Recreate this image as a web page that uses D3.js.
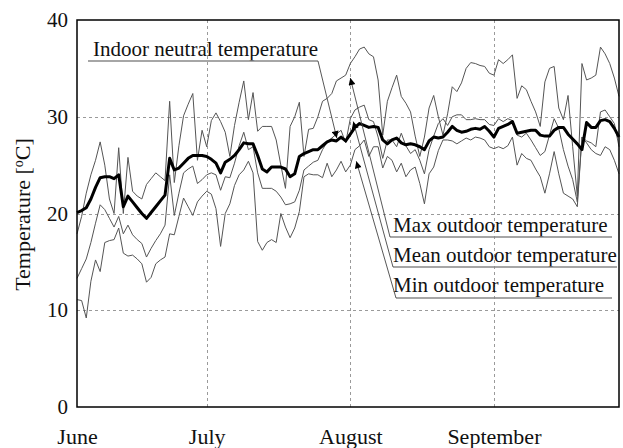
<!DOCTYPE html>
<html>
<head>
<meta charset="utf-8">
<script src="https://cdn.jsdelivr.net/npm/d3@7"></script>
<style>
  html, body { margin: 0; padding: 0; background: #fff; }
  svg { display: block; }
  text { font-family: "Liberation Serif", "Times New Roman", serif; fill: #111; }
</style>
</head>
<body>
<svg id="chart" width="623" height="448"></svg>
<script>
// Daily temperatures, 3 June – 28 September (°C)
const firstDay = new Date(2013, 5, 3);
const lastDay = new Date(2013, 8, 28);

const maxOutdoor = [
  17.9, 19.7, 22.1, 24.0, 25.5, 27.4, 25.0, 21.5, 20.0, 26.8,
  20.0, 25.8, 22.3, 21.8, 21.5, 23.0, 23.6, 24.2, 23.8, 23.4,
  31.6, 23.2, 27.0, 30.1, 31.3, 32.4, 25.5, 28.6, 26.9, 29.6,
  30.4, 29.5, 28.4, 25.9, 29.1, 31.5, 33.7, 29.7, 32.5, 28.5,
  29.0, 29.0, 29.0, 27.6, 25.0, 22.6, 29.0, 30.0, 31.5, 25.9,
  28.7, 28.8, 30.0, 31.6, 31.9, 32.4, 33.7, 34.0, 34.3, 35.5,
  36.2, 37.0, 37.2, 36.5, 36.2, 33.8, 28.1, 31.6, 33.0, 34.3,
  32.1, 31.4, 30.5, 28.0, 25.9, 27.9, 30.9, 32.2, 30.0, 28.1,
  30.3, 33.1, 32.6, 33.5, 35.0, 35.6, 35.5, 35.3, 35.2, 34.5,
  34.3, 35.9, 35.5, 35.9, 36.4, 31.9, 33.2, 32.8, 31.6, 30.5,
  29.0, 33.6, 35.0, 35.2, 30.9, 29.7, 32.2, 26.9, 21.8, 35.5,
  33.8, 34.0, 34.3, 37.2, 36.5, 35.5, 34.0, 32.1
];

const meanOutdoor = [
  13.3, 14.3, 15.3, 17.0, 19.0, 20.9, 20.4, 19.5, 18.6, 19.7,
  17.9, 18.8, 17.8, 17.3, 16.9, 15.5, 16.4, 17.2, 17.9, 18.8,
  24.0, 19.8, 22.1, 24.2, 24.6, 24.9, 23.1, 23.5, 24.0, 24.2,
  24.0, 22.4, 23.8, 23.7, 25.2, 27.0, 28.4, 26.6, 26.9, 24.2,
  22.6, 22.6, 22.6, 22.3, 21.7, 20.9, 21.0, 21.2, 22.4, 24.5,
  24.9, 25.3, 25.5, 26.6, 27.4, 27.8, 28.2, 28.6, 27.3, 29.8,
  30.7, 31.0, 31.2, 29.7, 29.5, 27.9, 25.7, 27.6, 27.6, 26.9,
  28.3, 27.0, 26.2, 26.6, 25.5, 24.1, 26.6, 28.0, 29.3, 29.8,
  29.1, 30.0, 30.2, 30.2, 29.7, 29.7, 29.8, 29.7, 29.7, 29.2,
  29.1, 29.8, 29.5, 29.8, 29.6, 28.1, 27.9, 28.3, 27.6, 26.8,
  26.0, 26.4, 28.1, 29.8, 28.8, 26.6, 24.9, 23.5, 21.2, 27.9,
  27.5, 27.3, 26.9, 30.5, 30.7, 30.0, 29.3, 26.9
];

const minOutdoor = [
  11.1, 11.0, 9.2, 13.0, 15.2, 14.0, 17.0, 17.2, 17.3, 18.5,
  15.9, 15.6, 15.7, 15.3, 14.8, 12.9, 13.4, 14.8, 15.2, 15.5,
  17.9, 17.8, 19.7, 21.6, 20.7, 19.8, 21.2, 21.8, 22.3, 22.0,
  20.5, 16.6, 20.0, 21.0, 22.9, 24.0, 24.5, 25.4, 24.2, 17.1,
  16.2, 17.0, 17.3, 17.0, 20.0, 18.6, 17.5, 18.5, 20.2, 23.8,
  24.1, 24.0, 24.0, 23.7, 25.2, 23.8, 24.5, 25.4, 24.3, 25.0,
  26.6, 27.0, 27.6, 25.9, 26.9, 26.9, 24.7, 25.9, 25.5, 24.3,
  25.2, 23.8, 24.5, 24.8, 23.1, 21.0, 24.1, 24.8, 26.5, 27.6,
  27.6, 27.5, 27.2, 27.5, 27.8, 27.6, 27.9, 27.8, 27.6, 26.9,
  26.7, 26.9, 26.7, 27.0, 27.9, 25.0, 26.2, 25.7, 25.5, 24.6,
  23.8, 22.1, 24.1, 26.4, 24.1, 22.1, 21.8, 21.5, 20.7, 27.9,
  27.3, 26.6, 26.2, 26.0, 26.9, 26.6, 25.5, 24.1
];

const indoorNeutral = [
  20.1, 20.3, 20.6, 21.5, 22.7, 23.7, 23.8, 23.8, 23.6, 24.0,
  20.7, 21.8, 21.2, 20.6, 20.0, 19.5, 20.1, 20.7, 21.3, 21.9,
  25.7, 24.5, 24.7, 25.2, 25.7, 26.0, 26.0, 26.0, 25.9, 25.6,
  25.2, 24.2, 25.3, 25.6, 26.0, 26.6, 27.3, 27.2, 27.2, 26.0,
  24.6, 24.3, 24.8, 24.8, 24.8, 24.6, 23.8, 24.1, 25.9, 26.2,
  26.4, 26.6, 26.6, 27.0, 27.4, 27.6, 27.5, 27.9, 27.5, 28.2,
  28.9, 29.3, 29.1, 28.9, 29.0, 28.9, 27.6, 27.2, 27.6, 27.8,
  27.3, 27.1, 27.2, 27.1, 26.9, 26.6, 27.5, 27.9, 27.8, 27.9,
  28.4, 29.0, 28.6, 28.4, 28.5, 28.7, 28.8, 28.7, 29.0, 28.5,
  27.9, 28.8, 29.0, 29.2, 29.5, 28.3, 28.4, 28.5, 28.6, 28.6,
  28.1, 28.0, 28.0, 28.6, 28.9, 28.9, 28.2, 27.7, 27.2, 26.6,
  29.4, 28.9, 28.9, 29.6, 29.7, 29.5, 28.8, 27.9
];

const yTicks = [0, 10, 20, 30, 40];
const monthTicks = [firstDay, new Date(2013, 6, 1), new Date(2013, 7, 1), new Date(2013, 8, 1)];
const monthLabels = ["June", "July", "August", "September"];

const days = indoorNeutral.map((_, i) => d3.timeDay.offset(firstDay, i));

const svg = d3.select("#chart");
const plot = { left: 77, right: 619, top: 20, bottom: 407 };

const x = d3.scaleTime().domain([firstDay, lastDay]).range([plot.left, plot.right]);
const y = d3.scaleLinear().domain([0, 40]).range([plot.bottom, plot.top]);

// Grid
const grid = svg.append("g").attr("stroke", "#9a9a9a").attr("stroke-width", 1)
  .attr("stroke-dasharray", "3,3");
grid.selectAll("line.h").data(yTicks.filter(v => v > 0 && v < 40)).join("line")
  .attr("x1", plot.left).attr("x2", plot.right)
  .attr("y1", d => Math.round(y(d)) + 0.5).attr("y2", d => Math.round(y(d)) + 0.5);
grid.selectAll("line.v").data(monthTicks.slice(1)).join("line")
  .attr("y1", plot.top).attr("y2", plot.bottom)
  .attr("x1", d => Math.round(x(d)) + 0.5).attr("x2", d => Math.round(x(d)) + 0.5);

// Axes
const yAxis = svg.append("g").attr("transform", `translate(${plot.left},0)`)
  .call(d3.axisLeft(y).tickValues(yTicks).tickSize(0).tickPadding(9));
yAxis.select(".domain").remove();
yAxis.selectAll("text").style("font-family", '"Liberation Serif", serif').style("font-size", "21px").attr("fill", "#111");

const xAxis = svg.append("g").attr("transform", `translate(0,${plot.bottom})`)
  .call(d3.axisBottom(x).tickValues(monthTicks).tickSize(0).tickPadding(21)
    .tickFormat((d, i) => monthLabels[i]));
xAxis.select(".domain").remove();
xAxis.selectAll("text").style("font-family", '"Liberation Serif", serif').style("font-size", "22px").attr("fill", "#111");

// Axis title
const yTitle = svg.append("text")
  .attr("transform", `translate(30,${(plot.top + plot.bottom) / 2 + 1}) rotate(-90)`)
  .attr("text-anchor", "middle")
  .style("font-size", "22px");
yTitle.append("tspan").text("Temperature [");
yTitle.append("tspan").attr("baseline-shift", "super").style("font-size", "14px").text("o");
yTitle.append("tspan").text("C]");

// Series
const line = data => d3.line().x((d, i) => x(days[i])).y(d => y(d))(data);
const lines = svg.append("g").attr("fill", "none");
[maxOutdoor, meanOutdoor, minOutdoor].forEach(s => {
  lines.append("path").attr("d", line(s)).attr("stroke", "#555").attr("stroke-width", 1);
});
lines.append("path").attr("d", line(indoorNeutral)).attr("stroke", "#000")
  .attr("stroke-width", 3).attr("stroke-linejoin", "round");

// Frame
svg.append("rect").attr("x", plot.left).attr("y", plot.top)
  .attr("width", plot.right - plot.left).attr("height", plot.bottom - plot.top)
  .attr("fill", "none").attr("stroke", "#000").attr("stroke-width", 1.5);

// Callouts
const defs = svg.append("defs");
defs.append("marker").attr("id", "tip").attr("viewBox", "0 0 10 10")
  .attr("markerUnits", "userSpaceOnUse")
  .attr("refX", 10).attr("refY", 5).attr("markerWidth", 10).attr("markerHeight", 7)
  .attr("orient", "auto").append("path").attr("d", "M0,0 L10,5 L0,10 Z").attr("fill", "#000");

const callouts = [
  { label: "Indoor neutral temperature", tx: 93, ty: 56, ux1: 88, ux2: 318, uy: 61, px: x(new Date(2013, 6, 28)) + 5, pv: indoorNeutral[55] + 0.2 },
  { label: "Max outdoor temperature", tx: 393, ty: 232, ux1: 390, ux2: 612, uy: 237, px: x(new Date(2013, 7, 1)), pv: 34.0 },
  { label: "Mean outdoor temperature", tx: 393, ty: 262, ux1: 393, ux2: 617, uy: 267, px: x(new Date(2013, 7, 1)) + 3, pv: 29.5 },
  { label: "Min outdoor temperature", tx: 393, ty: 292, ux1: 396, ux2: 612, uy: 298, px: x(new Date(2013, 7, 1)) + 6, pv: 25.4 }
];

const co = svg.append("g");
callouts.forEach((c, k) => {
  co.append("text").attr("x", c.tx).attr("y", c.ty).style("font-size", "21px").text(c.label);
  co.append("line").attr("x1", c.ux1).attr("x2", c.ux2).attr("y1", c.uy).attr("y2", c.uy)
    .attr("stroke", "#888").attr("stroke-width", 1.3);
  const sx = k === 0 ? c.ux2 : c.ux1;
  co.append("line").attr("x1", sx).attr("y1", c.uy).attr("x2", c.px).attr("y2", y(c.pv))
    .attr("stroke", "#444").attr("stroke-width", 0.9).attr("marker-end", "url(#tip)");
});
</script>
</body>
</html>
